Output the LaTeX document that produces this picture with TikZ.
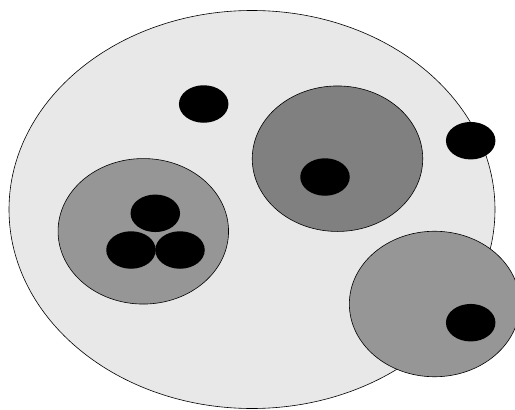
\documentclass[tikz,border=0pt]{standalone}
\usetikzlibrary{shapes.geometric}
\definecolor{bgcell}{HTML}{E8E8E8}
\definecolor{midcell}{HTML}{969696}
\definecolor{darkcell}{HTML}{808080}
\tikzset{
  blob/.style={ellipse, draw=black, line width=0.6pt, inner sep=0pt, minimum width=170.5pt, minimum height=145.5pt},
  dot/.style={ellipse, fill=black, draw=none, inner sep=0pt, minimum width=49.5pt, minimum height=37.5pt},
}
\begin{document}
\begin{tikzpicture}[x=1pt,y=-1pt]
\useasboundingbox (0,0) rectangle (515,410);
\clip (0,0) rectangle (515,410);
\fill[white] (0,0) rectangle (515,410);
\node[ellipse, draw=black, line width=0.6pt, fill=bgcell, inner sep=0pt, minimum width=486pt, minimum height=398pt] (outer) at (252,209.5) {};
\node[blob, fill=midcell] (left) at (143.3,231.3) {};
\node[blob, fill=darkcell] (top) at (337.5,158.7) {};
\node[blob, fill=midcell] (br) at (434.6,304) {};
\node[dot] (d1) at (203.7,104) {};
\node[dot] (d2) at (470.7,140.7) {};
\node[dot] (d3) at (325,177) {};
\node[dot] (d4) at (470.7,322.7) {};
\node[dot] (d5) at (155.3,213.3) {};
\node[dot] (d6) at (131,250) {};
\node[dot] (d7) at (180,250) {};
\end{tikzpicture}
\end{document}
